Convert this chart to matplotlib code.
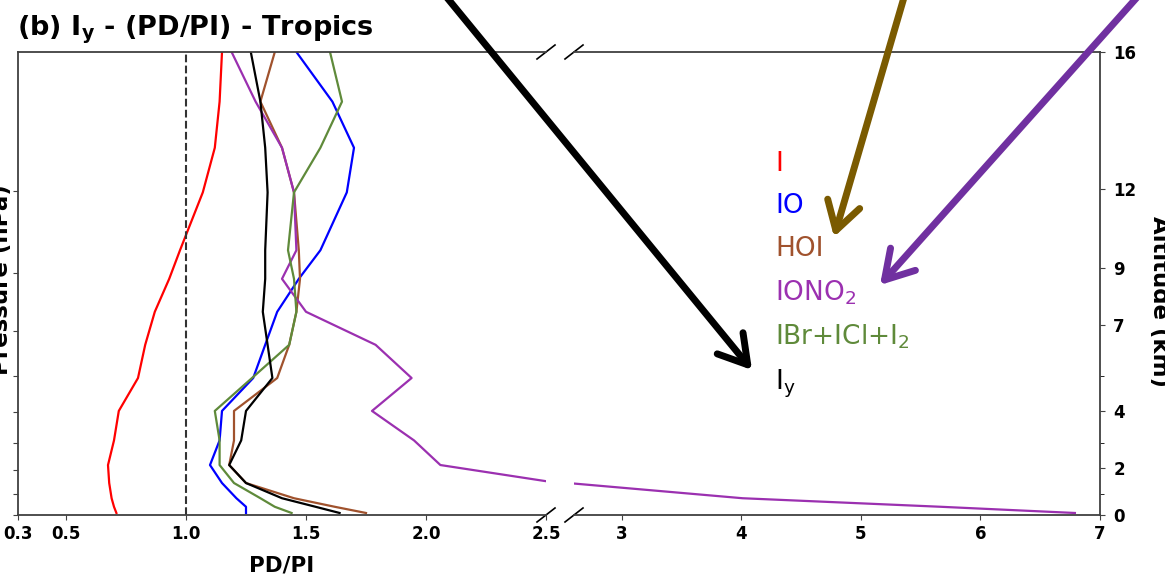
import matplotlib
matplotlib.use('Agg')
import matplotlib.pyplot as plt

# Load data (PD/PI ratios)
pressure = [990, 960, 920, 853, 780, 690, 596, 506, 429, 364, 309, 268, 201, 161, 128, 100]

i_ratio = [0.71, 0.70, 0.69, 0.68, 0.675, 0.70, 0.72, 0.80, 0.83, 0.87, 0.93, 0.975, 1.07, 1.12, 1.14, 1.15]
io_ratio = [1.25, 1.25, 1.21, 1.15, 1.10, 1.14, 1.15, 1.28, 1.33, 1.38, 1.47, 1.56, 1.67, 1.70, 1.61, 1.46]
hoi_ratio = [1.75, 1.62, 1.45, 1.25, 1.18, 1.20, 1.20, 1.38, 1.43, 1.46, 1.475, 1.47, 1.45, 1.40, 1.31, 1.37]
iono2_ratio = [6.79, 5.67, 4.01, 2.55, 2.06, 1.95, 1.775, 1.94, 1.79, 1.50, 1.40, 1.46, 1.45, 1.40, 1.29, 1.19]
ihal_ratio = [1.44, 1.37, 1.31, 1.20, 1.14, 1.14, 1.12, 1.275, 1.43, 1.46, 1.45, 1.425, 1.45, 1.56, 1.65, 1.60]
iy_ratio = [1.64, 1.54, 1.40, 1.25, 1.18, 1.23, 1.25, 1.36, 1.34, 1.32, 1.33, 1.33, 1.34, 1.33, 1.31, 1.27]

species = ['I', 'IO', 'HOI', r'IONO$_2$', r'IBr+ICl+I$_2$', r'I$_y$']
ratios = [i_ratio, io_ratio, hoi_ratio, iono2_ratio, ihal_ratio, iy_ratio]
colors = ['red', 'blue', '#a0522d', '#9b30b0', '#5f8a3a', 'black']

left_ticks = [0.3, 0.5, 1.0, 1.5, 2.0, 2.5]
right_ticks = [3, 4, 5, 6, 7]
p_ticks = [200, 300, 400, 500, 600, 700, 800, 900, 1000]
alt_labels = ['0', '2', '4', '7', '9', '12', '16']
alt_pres = [1000, 792, 596, 389, 293, 198, 100]

plt.rcParams['mathtext.default'] = 'regular'
spine_c = '#404040'

fig = plt.figure(figsize=(11.65, 5.74), dpi=100)
ax1 = fig.add_axes([18/1165, 59/574, 528/1165, 463/574])
ax2 = fig.add_axes([574/1165, 59/574, 526/1165, 463/574])

for ax in (ax1, ax2):
    for sp in ax.spines.values():
        sp.set_color(spine_c)
        sp.set_linewidth(1.3)
    lines = []
    for name, vals, c in zip(species, ratios, colors):
        ln, = ax.plot(vals, pressure, color=c, lw=1.6, label=name)
        lines.append(ln)
    ax.set_yscale('log')
    ax.set_ylim(1000, 100)
    ax.tick_params(colors=spine_c, labelcolor='black', labelsize=12)

# left panel
ax1.set_xlim(0.3, 2.5)
ax1.spines['right'].set_visible(False)
ax1.axvline(1.0, color='#333333', ls='--', lw=1.5)
ax1.set_xticks(left_ticks, labels=['%.1f' % t for t in left_ticks], fontweight='bold')
ax1.set_yticks(p_ticks, labels=[])
ax1.yaxis.set_minor_locator(plt.NullLocator())
ax1.set_xlabel('PD/PI', fontweight='bold', fontsize=15.5, labelpad=9)
ax1.set_title(r'(b) $\mathbf{I_y}$ - (PD/PI) - Tropics', loc='left',
              fontweight='bold', fontsize=19.5, pad=12, x=-0.002)

# right panel
ax2.set_xlim(2.6, 7)
ax2.spines['left'].set_visible(False)
ax2.set_xticks(right_ticks, labels=[str(t) for t in right_ticks], fontweight='bold')
ax2.yaxis.tick_right()
ax2.set_yticks(alt_pres, labels=alt_labels, fontweight='bold')
ax2.set_yticks([500, 700, 900], minor=True)
ax2.set_yticklabels([], minor=True)
ax2.tick_params(axis='y', which='minor', length=3)
ax2.tick_params(axis='y', which='major', pad=6)

# break marks
kw = dict(color='black', lw=1.2, clip_on=False)
dx1, dx2, dy = 9/528, 9/526, 7/463
for yy in (0, 1):
    ax1.plot([1-dx1, 1+dx1], [yy-dy, yy+dy], transform=ax1.transAxes, **kw)
    ax2.plot([-dx2, dx2], [yy-dy, yy+dy], transform=ax2.transAxes, **kw)

# legend as coloured text
leg = ax2.legend(lines, species, loc='upper left', bbox_to_anchor=(775/1165, 423/574),
                 bbox_transform=fig.transFigure, frameon=False, handlelength=0,
                 handletextpad=0, labelcolor='linecolor', fontsize=19,
                 labelspacing=0.62, borderpad=0, borderaxespad=0)
for h in leg.legend_handles:
    h.set_visible(False)

# axis labels on the cropped edges
fig.text(2/1165, 294/574, 'Pressure (hPa)', rotation=90, ha='center', va='center',
         fontweight='bold', fontsize=16.5)
fig.text(1159/1165, 272/574, 'Altitude (km)', rotation=270, ha='center', va='center',
         fontweight='bold', fontsize=16.5)

# annotation arrows
arrows = [((444, 580), (752, 204), 'black'),
          ((905, 580), (834, 337), '#7a5a00'),
          ((1140, 580), (880, 289), '#7030a0')]
for start, tip, c in arrows:
    ax2.annotate('', xy=tip, xytext=start, xycoords='figure pixels',
                 textcoords='figure pixels', annotation_clip=False,
                 arrowprops=dict(arrowstyle='->,head_length=1.0,head_width=0.6',
                                 lw=5, color=c, mutation_scale=20,
                                 shrinkA=0, shrinkB=0))

fig.savefig('out.png', dpi=100)
